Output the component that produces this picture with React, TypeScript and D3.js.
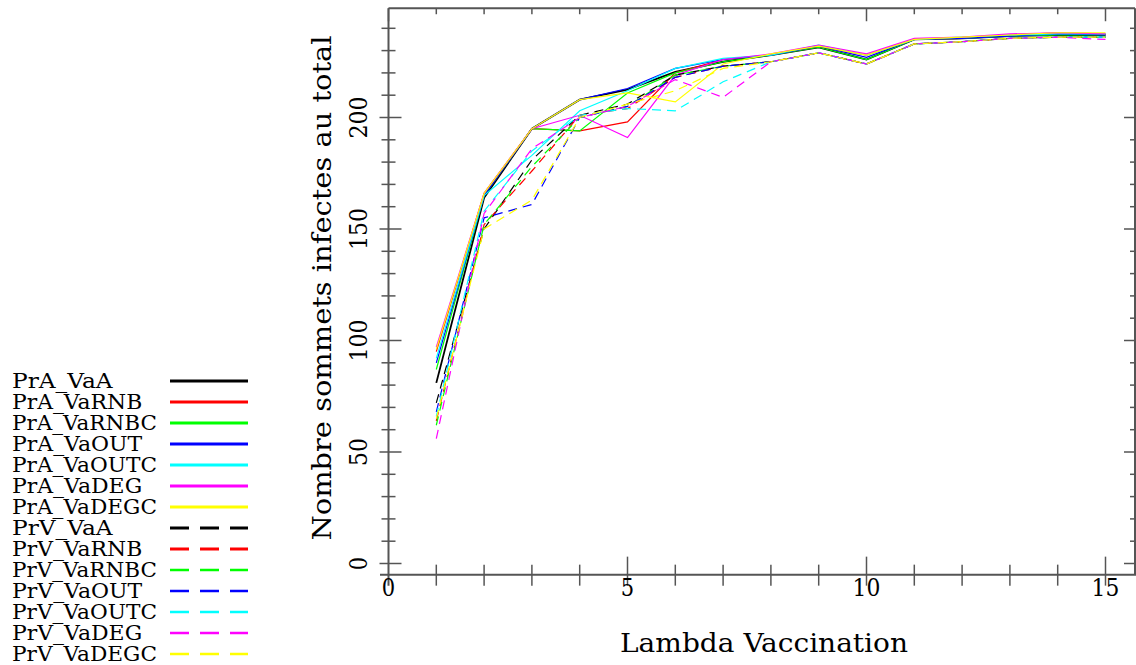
import React from "react";
import * as d3 from "d3";

const xValues = [1, 2, 3, 4, 5, 6, 7, 8, 9, 10, 11, 12, 13, 14, 15];

const seriesNames = [
  "PrA_VaA", "PrA_VaRNB", "PrA_VaRNBC", "PrA_VaOUT", "PrA_VaOUTC", "PrA_VaDEG", "PrA_VaDEGC",
  "PrV_VaA", "PrV_VaRNB", "PrV_VaRNBC", "PrV_VaOUT", "PrV_VaOUTC", "PrV_VaDEG", "PrV_VaDEGC",
];

const seriesColors = [
  "#000000", "#ff0000", "#00ff00", "#0000ff", "#00ffff", "#ff00ff", "#ffff00",
  "#000000", "#ff0000", "#00ff00", "#0000ff", "#00ffff", "#ff00ff", "#ffff00",
];

const seriesDashed = [false, false, false, false, false, false, false, true, true, true, true, true, true, true];

// PrA (solid)
const prA_VaA = [81, 164, 195, 208, 212.5, 220.5, 225, 228, 231.5, 226, 235, 235.5, 236.5, 237, 237];
const prA_VaRNB = [95, 166, 195, 194, 198, 220, 226, 228, 232, 228, 235, 235.5, 237, 238, 237.5];
const prA_VaRNBC = [87, 165, 195, 194, 211, 220, 225, 228, 231.5, 226, 235, 235.5, 236.5, 237, 237];
const prA_VaOUT = [90, 165, 195, 208, 213, 222, 226, 228, 232, 227, 235, 235.5, 236.5, 237.5, 237];
const prA_VaOUTC = [92, 165, 183, 203, 212, 222, 226.5, 228, 232.5, 228, 235, 236, 237, 237.5, 237.5];
const prA_VaDEG = [97, 166, 195, 201, 191, 219, 226, 228.5, 232.5, 228.5, 235.5, 236, 237.5, 238, 237.5];
const prA_VaDEGC = [96, 166, 195, 208, 211, 207, 224, 228.5, 232, 228, 235, 236, 237, 238, 238];
// PrV (dashed)
const prV_VaA = [72, 150, 181, 201, 206, 219, 223, 225, 229, 224, 233, 234, 235.5, 236, 236];
const prV_VaRNB = [64, 152, 176, 201, 204, 218, 223, 225, 229, 224, 233, 234, 235.5, 236, 236];
const prV_VaRNBC = [62, 152, 178, 200, 205, 219, 223, 225, 229, 224, 233, 234, 235.5, 236, 236];
const prV_VaOUT = [68, 155, 161, 200, 205, 218, 223, 225, 229, 224, 233, 234, 235.5, 236, 236];
const prV_VaOUTC = [66, 158, 185, 201, 204, 203, 216, 225, 229, 224, 233, 234, 235.5, 236, 236];
const prV_VaDEG = [56, 157, 186, 200, 205, 217, 209, 225, 229, 224, 233, 234, 235.5, 236, 235];
const prV_VaDEGC = [65, 150, 163, 200, 206, 212, 222, 225, 229, 224, 233, 234, 235.5, 236, 236];

const seriesValues = [
  prA_VaA, prA_VaRNB, prA_VaRNBC, prA_VaOUT, prA_VaOUTC, prA_VaDEG, prA_VaDEGC,
  prV_VaA, prV_VaRNB, prV_VaRNBC, prV_VaOUT, prV_VaOUTC, prV_VaDEG, prV_VaDEGC,
];

const xTickLabels = [0, 5, 10, 15];
const yTickLabels = [0, 50, 100, 150, 200];
const xTitle = "Lambda Vaccination";
const yTitle = "Nombre sommets infectes au total";

const FONT = "'DejaVu Serif', 'Liberation Serif', serif";
const AXIS = "#555555";

export default function App() {
  const x = d3.scaleLinear().domain([0, 15]).range([388.5, 1105.5]);
  const y = d3.scaleLinear().domain([0, 200]).range([563.5, 117.5]);

  const left = x(0);
  const right = 1135;
  const top = y(249);
  const bottom = y(-5);

  const line = d3
    .line<number>()
    .x((_, i) => x(xValues[i]))
    .y((d) => y(d));

  const xMinor = d3.range(0, 16);
  const yMinor = d3.range(0, 250, 10);
  const CH = 14.4;

  return (
    <svg
      width={1136}
      height={665}
      style={{ position: "absolute", left: 0, top: 0, background: "#fff" }}
    >
      <rect x={0} y={0} width={1136} height={665} fill="#fff" />
      {/* frame */}
      <g stroke={AXIS} fill="none">
        <line x1={left} x2={right} y1={top} y2={top} strokeWidth={2} />
        <line x1={right} x2={right} y1={top} y2={bottom} strokeWidth={2} />
        <line x1={left} x2={left} y1={top} y2={bottom + 11} strokeWidth={2} />
        <line x1={380} x2={1136} y1={bottom} y2={bottom} strokeWidth={2} />
        {xMinor.map((v) => {
          const major = v % 5 === 0;
          return (
            <g key={"xt" + v}>
              {v > 0 && (
                <line x1={x(v)} x2={x(v)} y1={bottom - (major ? 18 : 10)} y2={bottom + 11} strokeWidth={1.5} />
              )}
              <line x1={x(v)} x2={x(v)} y1={top} y2={top + (major ? 13 : 6)} strokeWidth={1.5} />
            </g>
          );
        })}
        {yMinor.map((v) => {
          const major = v % 50 === 0;
          return (
            <g key={"yt" + v}>
              <line x1={left - (major ? 9 : 7)} x2={left + (major ? 13 : 7)} y1={y(v)} y2={y(v)} strokeWidth={1.5} />
              <line x1={right - (major ? 11 : 5)} x2={right} y1={y(v)} y2={y(v)} strokeWidth={1.5} />
            </g>
          );
        })}
      </g>

      {/* tick labels */}
      <g fontFamily={FONT} fontSize={25} fill="#000">
        {xTickLabels.map((v) => (
          <text
            key={"xl" + v}
            x={x(v)}
            y={596}
            textAnchor="middle"
            textLength={String(v).length * CH - 1}
            lengthAdjust="spacingAndGlyphs"
          >
            {v}
          </text>
        ))}
        {yTickLabels.map((v) => (
          <text
            key={"yl" + v}
            transform={`translate(367,${y(v)}) rotate(-90)`}
            textAnchor="middle"
            textLength={String(v).length * CH - 1}
            lengthAdjust="spacingAndGlyphs"
          >
            {v}
          </text>
        ))}
        <text
          x={764}
          y={652}
          textAnchor="middle"
          fontSize={26}
          textLength={288}
          lengthAdjust="spacingAndGlyphs"
        >
          {xTitle}
        </text>
        <text
          transform={`translate(331,${288}) rotate(-90)`}
          textAnchor="middle"
          fontSize={26}
          textLength={505}
          lengthAdjust="spacingAndGlyphs"
        >
          {yTitle}
        </text>
      </g>

      {/* series */}
      <g fill="none">
        {seriesValues.map((vals, i) => (
          <path
            key={seriesNames[i]}
            d={line(vals) || ""}
            stroke={seriesColors[i]}
            strokeWidth={i === 0 ? 1.8 : 1.2}
            strokeDasharray={seriesDashed[i] ? "9,6" : undefined}
          />
        ))}
      </g>

      {/* legend */}
      <g fontFamily={FONT} fontSize={21} fill="#000">
        {seriesNames.map((n, i) => {
          const cy = 381 + i * 21;
          return (
            <g key={"lg" + n}>
              <text
                x={12}
                y={cy + 7}
                textLength={n.length * 14.8 - 3}
                lengthAdjust="spacingAndGlyphs"
              >
                {n}
              </text>
              <line
                x1={170}
                x2={248}
                y1={cy}
                y2={cy}
                stroke={seriesColors[i]}
                strokeWidth={seriesDashed[i] ? (i < 9 ? 3 : 2.5) : 3}
                strokeDasharray={seriesDashed[i] ? "19,11" : undefined}
              />
            </g>
          );
        })}
      </g>
    </svg>
  );
}
